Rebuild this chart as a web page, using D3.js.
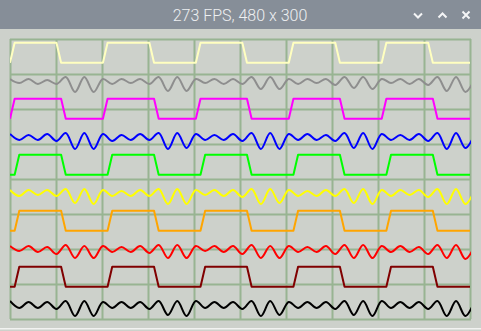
<!DOCTYPE html>
<html>
<head>
<meta charset="utf-8">
<script src="https://cdn.jsdelivr.net/npm/d3@7"></script>
<style>
html, body { margin: 0; padding: 0; background: #cdd1cb; overflow: hidden; }
svg { display: block; }
</style>
</head>
<body>
<svg id="chart" width="481" height="331"></svg>
<script>
// title of the window
const titleText = "273 FPS, 480 x 300"

// ten traces, top to bottom
const traceNames = ["sq1", "noise1", "sq2", "noise2", "sq3", "noise3", "sq4", "noise4", "sq5", "noise5"]
const traceColors = ["#ffffc0", "#8e8e8e", "#ff00ff", "#0000ff", "#00ff00", "#ffff00", "#ffa500", "#ff0000", "#800000", "#000000"]

// square traces: 100 samples, 0 = low, 1 = high
const squareLevels = [-9.7, 10.3]
const sq1 = [0,1,1,1,1,1,1,1,1,1, 1,0,0,0,0,0,0,0,0,0,
             0,1,1,1,1,1,1,1,1,1, 1,0,0,0,0,0,0,0,0,0,
             0,1,1,1,1,1,1,1,1,1, 1,0,0,0,0,0,0,0,0,0,
             0,1,1,1,1,1,1,1,1,1, 1,0,0,0,0,0,0,0,0,0,
             0,1,1,1,1,1,1,1,1,1, 1,0,0,0,0,0,0,0,0,0]
const sq2 = [0,1,1,1,1,1,1,1,1,1, 1,1,0,0,0,0,0,0,0,0,
             0,1,1,1,1,1,1,1,1,1, 1,1,0,0,0,0,0,0,0,0,
             0,1,1,1,1,1,1,1,1,1, 1,1,0,0,0,0,0,0,0,0,
             0,1,1,1,1,1,1,1,1,1, 1,1,0,0,0,0,0,0,0,0,
             0,1,1,1,1,1,1,1,1,1, 1,1,0,0,0,0,0,0,0,0]
const sq3 = [0,0,1,1,1,1,1,1,1,1, 1,1,0,0,0,0,0,0,0,0,
             0,0,1,1,1,1,1,1,1,1, 1,1,0,0,0,0,0,0,0,0,
             0,0,1,1,1,1,1,1,1,1, 1,1,0,0,0,0,0,0,0,0,
             0,0,1,1,1,1,1,1,1,1, 1,1,0,0,0,0,0,0,0,0,
             0,0,1,1,1,1,1,1,1,1, 1,1,0,0,0,0,0,0,0,0]
const sq4 = [0,0,1,1,1,1,1,1,1,1, 1,1,0,0,0,0,0,0,0,0,
             0,0,1,1,1,1,1,1,1,1, 1,1,0,0,0,0,0,0,0,0,
             0,0,1,1,1,1,1,1,1,1, 1,1,0,0,0,0,0,0,0,0,
             0,0,1,1,1,1,1,1,1,1, 1,1,0,0,0,0,0,0,0,0,
             0,0,1,1,1,1,1,1,1,1, 1,1,0,0,0,0,0,0,0,0]
const sq5 = [0,0,1,1,1,1,1,1,1,1, 1,1,0,0,0,0,0,0,0,0,
             0,0,1,1,1,1,1,1,1,1, 1,1,0,0,0,0,0,0,0,0,
             0,0,1,1,1,1,1,1,1,1, 1,1,0,0,0,0,0,0,0,0,
             0,0,1,1,1,1,1,1,1,1, 1,1,0,0,0,0,0,0,0,0,
             0,0,1,1,1,1,1,1,1,1, 1,1,0,0,0,0,0,0,0,0]

// noisy traces: one value every 2 samples (peaks and dips)
const noise1 = [2,-2,2,-3,1,-3,4,-11,4,-11,
                2,-3,2,-2,2,-3,4,-10,4,-10,
                2,-2,2,-3,2,-3,4,-8,4,-8,
                2,-3,2,-2,2,-4,4,-7,4,-8,
                2,-2,2,-3,2,-4,4,-10,4,-11,
                2]
const noise2 = [3,-3,2,-3,3,-4,4,-12,4,-12,
                3,-4,2,-3,3,-3,4,-12,4,-11,
                3,-3,2,-3,3,-4,4,-12,4,-12,
                3,-3,3,-3,2,-4,4,-11,4,-12,
                3,-3,2,-3,3,-4,4,-12,4,-11,
                3]
const noise3 = [3,-3,3,-2,3,-3,4,-10,4,-11,
                3,-3,2,-3,3,-3,4,-11,4,-11,
                3,-2,3,-3,3,-4,4,-11,4,-10,
                3,-3,2,-3,3,-3,4,-10,4,-11,
                3,-3,3,-2,3,-4,4,-11,4,-11,
                3]
const noise4 = [3,-2,3,-3,2,-5,4,-9,3,-9,
                3,-3,2,-3,3,-4,4,-9,4,-9,
                3,-2,3,-3,3,-5,4,-9,3,-9,
                3,-3,2,-3,3,-5,4,-9,4,-9,
                3,-3,3,-3,2,-5,4,-9,4,-10,
                3]
const noise5 = [4,-3,3,-3,3,-4,4,-11,4,-11,
                3,-3,3,-3,3,-4,4,-10,4,-11,
                4,-3,3,-3,3,-4,4,-11,4,-10,
                3,-3,3,-3,3,-4,4,-10,4,-11,
                4,-3,3,-3,3,-4,4,-11,4,-11,
                4]

const traceData = [sq1, noise1, sq2, noise2, sq3, noise3, sq4, noise4, sq5, noise5]

const W = 481, H = 331
const plotLeft = 10, plotRight = 470, plotTop = 39, plotBottom = 319
const bandH = 28

const svg = d3.select('#chart')

// window background
svg.append('rect').attr('width', W).attr('height', H).attr('fill', '#cdd1cb')

// title bar
svg.append('rect').attr('width', W).attr('height', 29).attr('fill', '#868e98')
svg.append('text')
    .attr('x', 240)
    .attr('y', 21)
    .attr('text-anchor', 'middle')
    .attr('font-family', 'Roboto, sans-serif')
    .attr('font-weight', 300)
    .attr('font-size', 16)
    .attr('fill', '#eef0f2')
    .text(titleText)

const icons = svg.append('g')
    .attr('fill', 'none')
    .attr('stroke', '#f4f5f6')
    .attr('stroke-width', 2)
icons.append('path').attr('d', 'M414,13.5 L418,17.5 L422,13.5')
icons.append('path').attr('d', 'M438.5,17.5 L442.5,13.5 L446.5,17.5')
icons.append('path').attr('d', 'M462.5,11.5 L469.5,18.5 M469.5,11.5 L462.5,18.5')

// bottom edge of the window
svg.append('rect').attr('x', 0).attr('y', 328).attr('width', W).attr('height', 1.5).attr('fill', '#f2f3f1')

const x = d3.scaleLinear().domain([0, 99]).range([plotLeft, plotRight])
const y = d3.scaleLinear().domain([0, 280]).range([plotBottom, plotTop])

// grid
const grid = svg.append('g')
    .attr('stroke', '#98b492')
    .attr('stroke-width', 2)
grid.selectAll('.vline')
    .data(d3.range(11).map(k => k * 9.9))
    .enter()
    .append('line')
    .attr('x1', d => x(d) + 0.5)
    .attr('x2', d => x(d) + 0.5)
    .attr('y1', y(0))
    .attr('y2', y(280))
grid.selectAll('.hline')
    .data(d3.range(0, 281, 35))
    .enter()
    .append('line')
    .attr('x1', x(0))
    .attr('x2', x(99) + 1)
    .attr('y1', d => y(d) + 0.5)
    .attr('y2', d => y(d) + 0.5)

svg.append('clipPath').attr('id', 'plotclip')
    .append('rect')
    .attr('x', plotLeft).attr('y', 30)
    .attr('width', plotRight - plotLeft + 1).attr('height', 300)

const traces = svg.append('g').attr('clip-path', 'url(#plotclip)')

traceData.forEach((data, i) => {
    const offset = 280 - bandH * (i + 0.5)
    let line
    if (i % 2 === 0) {
        line = d3.line()
            .x((d, k) => x(k))
            .y(d => y(offset + squareLevels[d]))
    } else {
        line = d3.line()
            .x((d, k) => x(k * 2))
            .y(d => y(offset + d))
            .curve(d3.curveCatmullRom.alpha(0.5))
    }
    traces.append('path')
        .datum(data)
        .attr('class', traceNames[i])
        .attr('fill', 'none')
        .attr('stroke', traceColors[i])
        .attr('stroke-width', 2)
        .attr('stroke-linejoin', 'round')
        .attr('d', line)
})
</script>
</body>
</html>
